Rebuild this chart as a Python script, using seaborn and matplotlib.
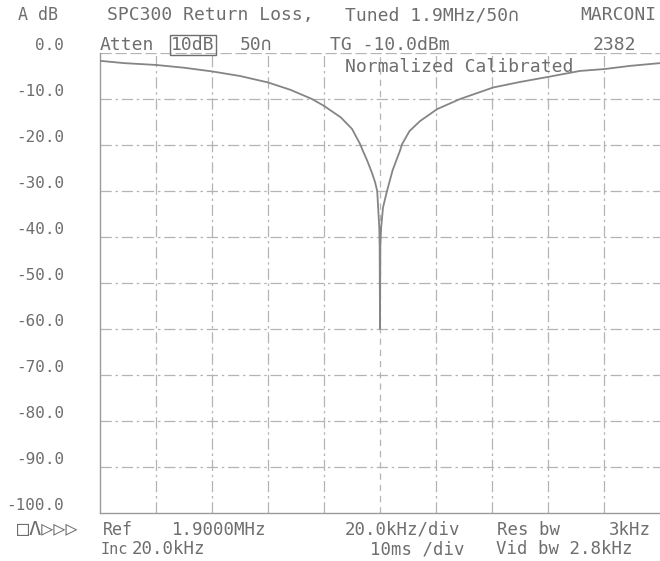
import numpy as np
import pandas as pd
import matplotlib
matplotlib.use("Agg")
import matplotlib.pyplot as plt
import seaborn as sns

sns.set_style("white")
plt.rcParams['font.family'] = ['DejaVu Sans Mono', 'DejaVu Sans']

# frequency offset from 1.9000 MHz (kHz) and return loss (dB)
offset_khz = [-100, -91.4, -80, -70, -60, -50, -40, -32, -24.3, -20, -14, -10, -7.1, -6.1,
              -4.5, -2.9, -1.8, -1.0, -0.25, -0.12, 0, 0.12, 0.4, 1.07, 2.5, 4.5, 7.1,
              7.9, 10.5, 14.3, 20.4, 28.6, 40.4, 50, 60, 71.4, 80, 89.3, 100]
loss_db = [-1.7, -2.2, -2.6, -3.2, -4.0, -5.0, -6.4, -8.0, -10.0, -11.5, -14.0, -16.5,
           -19.8, -21.3, -23.5, -26.0, -28.0, -30.0, -38.0, -42.0, -60.0, -42.0, -38.0,
           -33.6, -30.0, -25.5, -21.3, -19.8, -17.0, -14.8, -12.2, -10.0, -7.5, -6.3,
           -5.2, -3.9, -3.5, -2.8, -2.2]

y_ticks = [0, -10, -20, -30, -40, -50, -60, -70, -80, -90, -100]
y_labels = ["0.0", "-10.0", "-20.0", "-30.0", "-40.0", "-50.0", "-60.0",
            "-70.0", "-80.0", "-90.0", "-100.0"]
x_grid = [-100, -80, -60, -40, -20, 0, 20, 40, 60, 80, 100]

df = pd.DataFrame({'offset': offset_khz, 'dB': loss_db})

W, H = 660, 561
fig = plt.figure(figsize=(W / 100, H / 100), dpi=100)
ax = fig.add_axes([100 / W, 1 - 513 / H, 560 / W, (513 - 53) / H])

grid_c = '#b4b4b4'
text_c = '#6e6e6e'
trace_c = '#858585'

# graticule
for x in x_grid[1:-1]:
    ls = (0, (5, 4)) if x == 0 else (0, (9, 3, 2, 3))
    ax.axvline(x, color=grid_c, lw=0.9, ls=ls, zorder=1)
for y in y_ticks[1:-1]:
    ax.axhline(y, color=grid_c, lw=0.9, ls=(0, (9, 3, 2, 3)), zorder=1)
ax.axhline(0, color=grid_c, lw=0.9, ls=(0, (9, 3)), zorder=1)

sns.lineplot(data=df, x='offset', y='dB', ax=ax, color=trace_c, lw=1.3,
             sort=False, estimator=None, zorder=3)

ax.set_xlim(-100, 100)
ax.set_ylim(-100, 0)
ax.set_xticks([])
ax.set_yticks(y_ticks)
ax.set_yticklabels(y_labels, fontsize=11.5, color=text_c)
for lab in ax.get_yticklabels():
    lab.set_va('bottom')
ax.tick_params(axis='y', length=0, pad=26)
ax.set_xlabel('')
ax.set_ylabel('')
for s in ['top', 'right']:
    ax.spines[s].set_visible(False)
for s in ['left', 'bottom']:
    ax.spines[s].set_color('#9a9a9a')
    ax.spines[s].set_linewidth(1.0)


def put(x, y, s, ha='left', size=13, **kw):
    fig.text(x / W, 1 - y / H, s, ha=ha, va='center', fontsize=size, color=text_c, **kw)


# header
put(18, 15, "A dB", size=12)
put(107, 15, "SPC300 Return Loss,")
put(345, 15, "Tuned 1.9MHz/50\u2229")
put(656, 15, "MARCONI", ha='right')
put(100, 45, "Atten")
put(171, 45, "10dB", bbox=dict(boxstyle='square,pad=0.08', fc='none', ec=text_c, lw=1))
put(240, 45, "50\u2229")
put(330, 45, "TG -10.0dBm")
put(636, 45, "2382", ha='right')
put(345, 67, "Normalized Calibrated")

# footer
put(17, 530, "\u25a1\u039b\u25b7\u25b7\u25b7", size=14.5)
put(103, 530, "Ref", size=12)
put(172, 530, "1.9000MHz", size=12.5)
put(345, 530, "20.0kHz/div", size=12.5)
put(497, 530, "Res bw", size=12.5)
put(651, 530, "3kHz", ha='right', size=12.5)
put(101, 549, "Inc", size=11)
put(132, 549, "20.0kHz", size=12.5)
put(370, 549, "10ms /div", size=12.5)
put(496, 549, "Vid bw 2.8kHz", size=12.5)

fig.savefig("out.png", dpi=100)
